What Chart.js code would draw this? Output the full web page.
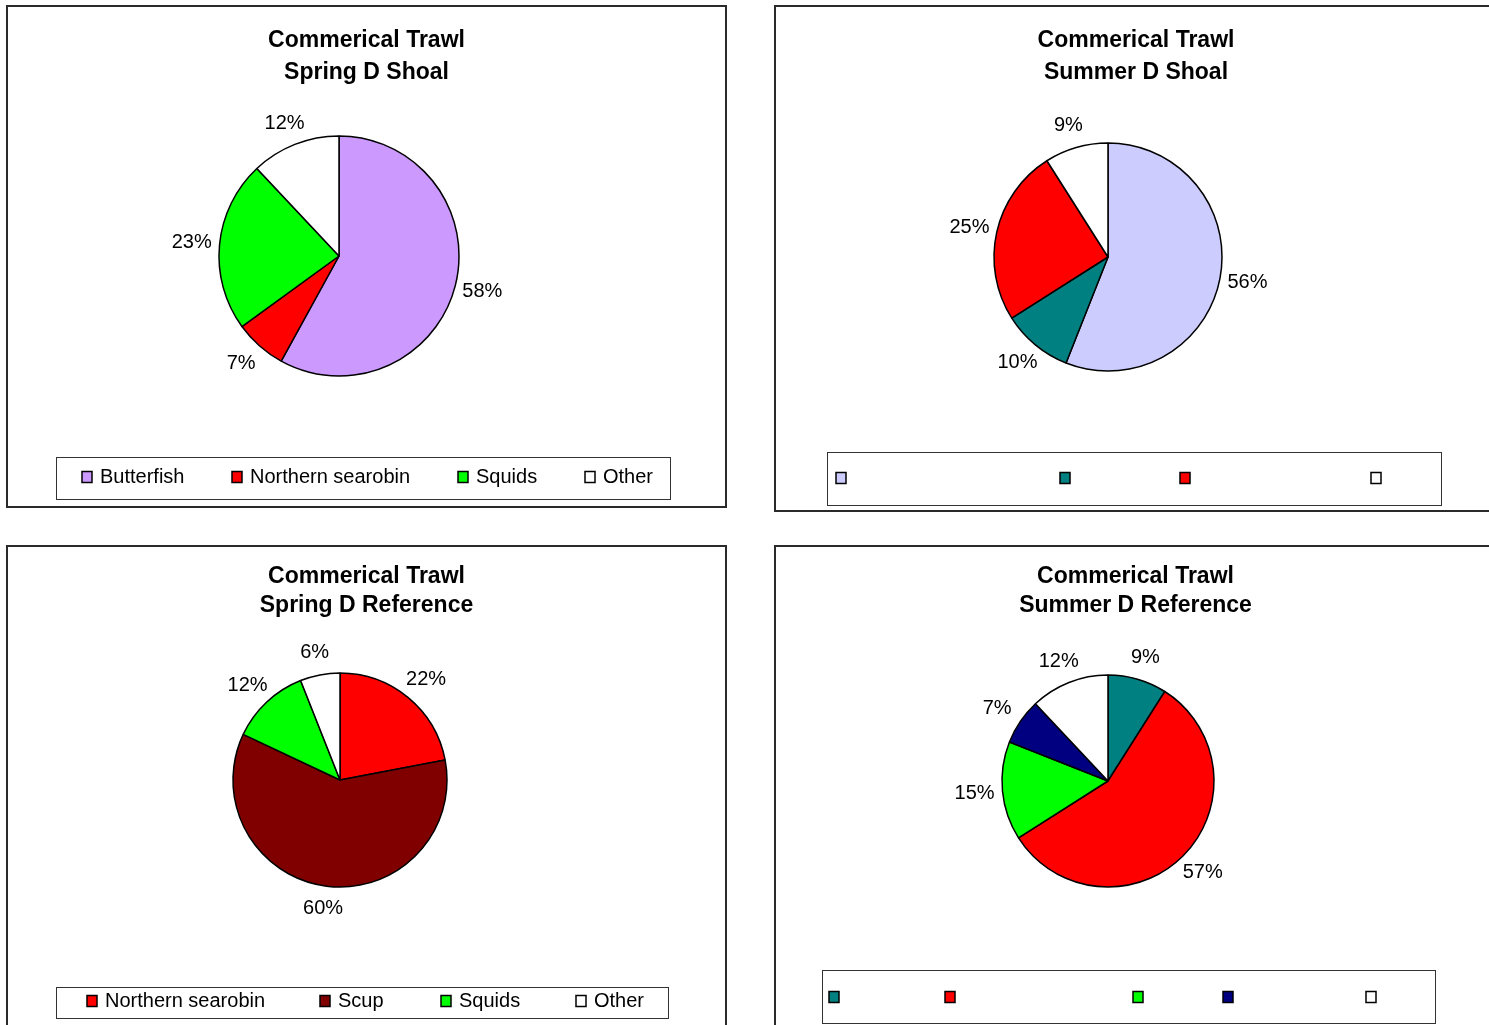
<!DOCTYPE html>
<html>
<head>
<meta charset="utf-8">
<title>Commerical Trawl</title>
<script src="https://cdn.jsdelivr.net/npm/chart.js@4.4.1/dist/chart.umd.min.js"></script>
<style>
  body { margin: 0; width: 1489px; height: 1025px; overflow: hidden; background: #fff; position: relative; }
  .panel { position: absolute; border: 2px solid #2a2a2a; background: #fff; }
  .panel canvas { display: block; }
</style>
</head>
<body>
<div class="panel" id="p1" style="left:6px;top:5px;"><canvas id="c1" width="717" height="499"></canvas></div>
<div class="panel" id="p2" style="left:774px;top:5px;"><canvas id="c2" width="720" height="503"></canvas></div>
<div class="panel" id="p3" style="left:6px;top:545px;"><canvas id="c3" width="717" height="490"></canvas></div>
<div class="panel" id="p4" style="left:774px;top:545px;"><canvas id="c4" width="719" height="490"></canvas></div>
<script>
// data
const springShoalLabels = ['Butterfish', 'Northern searobin', 'Squids', 'Other'];
const springShoalValues = [58, 7, 23, 12];

const summerShoalLabels = ['', '', '', ''];
const summerShoalValues = [56, 10, 25, 9];

const springRefLabels = ['Northern searobin', 'Scup', 'Squids', 'Other'];
const springRefValues = [22, 60, 12, 6];

const summerRefLabels = ['', '', '', '', ''];
const summerRefValues = [9, 57, 15, 7, 12];

const FONT = '"Liberation Sans", Arial, Helvetica, sans-serif';

// put the pie where it sits in the picture (chart area is square around the centre)
const pieFrame = {
    id: 'pieFrame',
    afterLayout(chart, args, opts) {
        const a = chart.chartArea;
        const r = opts.r + 0.75;
        a.left = opts.cx - r;
        a.right = opts.cx + r;
        a.top = opts.cy - r;
        a.bottom = opts.cy + r;
        a.width = 2 * r;
        a.height = 2 * r;
    }
};

// percentage labels outside each slice
const pctLabels = {
    id: 'pctLabels',
    afterDatasetsDraw(chart, args, opts) {
        const ctx = chart.ctx;
        const meta = chart.getDatasetMeta(0);
        const values = chart.data.datasets[0].data;
        const total = values.reduce((s, v) => s + v, 0);
        ctx.save();
        ctx.font = '20px ' + FONT;
        ctx.fillStyle = '#000';
        ctx.textAlign = 'center';
        ctx.textBaseline = 'middle';
        meta.data.forEach((arc, i) => {
            const p = arc.getProps(['x', 'y', 'startAngle', 'endAngle', 'outerRadius'], true);
            const mid = (p.startAngle + p.endAngle) / 2;
            const txt = Math.round(values[i] / total * 100) + '%';
            ctx.fillText(txt,
                p.x + Math.cos(mid) * (p.outerRadius + opts.dx),
                p.y + Math.sin(mid) * (p.outerRadius + opts.dy));
        });
        ctx.restore();
    }
};

// framed legend like the spreadsheet one
const boxLegend = {
    id: 'boxLegend',
    afterDraw(chart, args, opts) {
        const ctx = chart.ctx;
        const [l, t, r, b] = opts.box;
        const ds = chart.data.datasets[0];
        ctx.save();
        ctx.strokeStyle = '#333';
        ctx.lineWidth = 1;
        ctx.strokeRect(l + 0.5, t + 0.5, r - l, b - t);
        ctx.font = '20px ' + FONT;
        ctx.textBaseline = 'middle';
        ctx.textAlign = 'left';
        chart.data.labels.forEach((lab, i) => {
            const x = opts.items[i];
            ctx.fillStyle = ds.backgroundColor[i];
            ctx.fillRect(x, opts.y - 5.5, 10, 11);
            ctx.strokeStyle = '#000';
            ctx.lineWidth = 1.5;
            ctx.strokeRect(x, opts.y - 5.5, 10, 11);
            ctx.fillStyle = '#000';
            ctx.fillText(lab, x + 18, opts.y);
        });
        ctx.restore();
    }
};

function makePie(canvasId, title, labels, values, colors, geo) {
    const ctx = document.getElementById(canvasId).getContext('2d');
    return new Chart(ctx, {
        type: 'pie',
        data: {
            labels: labels,
            datasets: [{
                data: values,
                backgroundColor: colors,
                borderColor: '#000',
                borderWidth: 1.5,
                clip: false
            }]
        },
        options: {
            responsive: false,
            animation: false,
            events: [],
            layout: { padding: 0 },
            plugins: {
                legend: { display: false },
                tooltip: { enabled: false },
                title: {
                    display: true,
                    text: title,
                    color: '#000',
                    font: { family: FONT, size: 23, weight: 'bold', lineHeight: geo.lineH + 'px' },
                    padding: { top: geo.titleTop, bottom: 0 }
                },
                pieFrame: { cx: geo.cx, cy: geo.cy, r: geo.r },
                pctLabels: { dx: 28, dy: 23 },
                boxLegend: { box: geo.box, items: geo.items, y: geo.legendY }
            }
        },
        plugins: [pieFrame, pctLabels, boxLegend]
    });
}

makePie('c1', ['Commerical Trawl', 'Spring D Shoal'], springShoalLabels, springShoalValues,
    ['#CC99FF', '#FF0000', '#00FF00', '#FFFFFF'],
    { cx: 331, cy: 249, r: 120, titleTop: 18, lineH: 32,
      box: [48, 450, 662, 492], items: [74, 224, 450, 577], legendY: 470 });

makePie('c2', ['Commerical Trawl', 'Summer D Shoal'], summerShoalLabels, summerShoalValues,
    ['#CCCCFF', '#008080', '#FF0000', '#FFFFFF'],
    { cx: 332, cy: 250, r: 114, titleTop: 18, lineH: 32,
      box: [51, 445, 665, 498], items: [60, 284, 404, 595], legendY: 471 });

makePie('c3', ['Commerical Trawl', 'Spring D Reference'], springRefLabels, springRefValues,
    ['#FF0000', '#800000', '#00FF00', '#FFFFFF'],
    { cx: 332, cy: 233, r: 107, titleTop: 15.5, lineH: 29,
      box: [48, 440, 660, 471], items: [79, 312, 433, 568], legendY: 454 });

makePie('c4', ['Commerical Trawl', 'Summer D Reference'], summerRefLabels, summerRefValues,
    ['#008080', '#FF0000', '#00FF00', '#000080', '#FFFFFF'],
    { cx: 332, cy: 234, r: 106, titleTop: 15.5, lineH: 29,
      box: [46, 423, 659, 476], items: [53, 169, 357, 447, 590], legendY: 450 });
</script>
</body>
</html>
